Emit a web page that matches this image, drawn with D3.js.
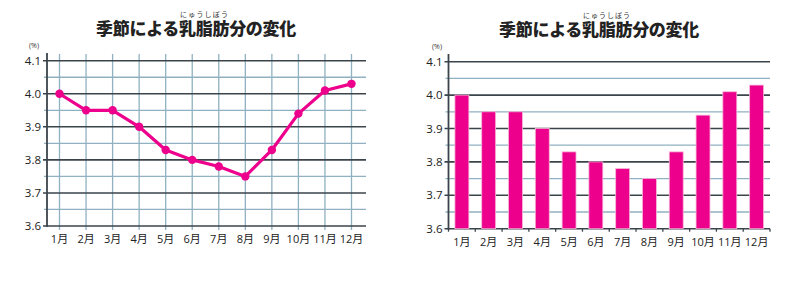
<!DOCTYPE html>
<html><head><meta charset="utf-8">
<script src="https://cdn.jsdelivr.net/npm/d3@7"></script>
<style>body{margin:0;background:#fff}svg{display:block}</style>
</head><body>
<svg id="c" width="800" height="281"></svg>
<script>
const months = ["1月","2月","3月","4月","5月","6月","7月","8月","9月","10月","11月","12月"];
const fat = [4.00, 3.95, 3.95, 3.90, 3.83, 3.80, 3.78, 3.75, 3.83, 3.94, 4.01, 4.03];
const majorTicks = [3.6, 3.7, 3.8, 3.9, 4.0, 4.1];
const minorTicks = [3.65, 3.75, 3.85, 3.95, 4.05];
const titleText = "季節による乳脂肪分の変化";
const rubyText = "にゅうしぼう";
const unitText = "(%)";

const svg = d3.select("#c");
const PINK = "#ec008c", DARK = "#3b444b", LIGHT = "#8fb1c1";
const FONT = "'Open Sans','Noto Sans CJK JP',sans-serif";
const TFONT = "'Liberation Sans','Noto Sans CJK JP',sans-serif";

function title(g, cx, base, rubyX0, rubyX1) {
  g.append("text").attr("x", cx).attr("y", base).attr("text-anchor", "middle")
    .attr("font-family", TFONT).attr("font-weight", 900).attr("font-size", 17)
    .attr("fill", "#222").attr("letter-spacing", -0.3).text(titleText);
  g.append("text").attr("x", (rubyX0 + rubyX1) / 2).attr("y", base - 18).attr("text-anchor", "middle")
    .attr("font-family", TFONT).attr("font-size", 7).attr("fill", "#333")
    .attr("textLength", rubyX1 - rubyX0).text(rubyText);
}

function yAxis(g, y, x0, x1, unitX, unitY, topY) {
  g.selectAll(".minor").data(minorTicks).join("line")
    .attr("x1", x0 - 3).attr("x2", x1).attr("y1", d => y(d)).attr("y2", d => y(d))
    .attr("stroke", LIGHT).attr("stroke-width", 1.3);
  g.selectAll(".major").data(majorTicks).join("line")
    .attr("x1", x0 - 4).attr("x2", x1).attr("y1", d => y(d)).attr("y2", d => y(d))
    .attr("stroke", DARK).attr("stroke-width", 1.6);
  g.append("line").attr("x1", x0).attr("x2", x0).attr("y1", topY).attr("y2", y(3.6) + 1)
    .attr("stroke", DARK).attr("stroke-width", 1.8);
  g.selectAll(".ylab").data(majorTicks).join("text")
    .attr("x", x0 - 6).attr("y", d => y(d) + 4).attr("text-anchor", "end")
    .attr("font-family", FONT).attr("font-size", 11.5).attr("fill", "#222")
    .text(d => d.toFixed(1));
  g.append("text").attr("x", unitX).attr("y", unitY).attr("text-anchor", "middle")
    .attr("font-family", FONT).attr("font-size", 7).attr("fill", "#333").text(unitText);
}

// ---------- Left: line chart ----------
{
  const g = svg.append("g");
  const y = d3.scaleLinear().domain([3.6, 4.1]).range([226, 60.7]);
  const x = d3.scalePoint().domain(months).range([59.5, 351.5]);
  const x0 = 47, x1 = 366;
  title(g, 196, 35, 180, 228);
  g.selectAll(".vg").data(months).join("line")
    .attr("x1", d => x(d)).attr("x2", d => x(d)).attr("y1", 54).attr("y2", y(3.6) + 4)
    .attr("stroke", LIGHT).attr("stroke-width", 1.3);
  yAxis(g, y, x0, x1, 34, 48, 53);
  g.selectAll(".xlab").data(months).join("text")
    .attr("x", d => x(d)).attr("y", 243).attr("text-anchor", "middle")
    .attr("font-family", FONT).attr("font-size", 11).attr("fill", "#222").text(d => d);
  const pts = months.map((m, i) => [x(m), y(fat[i])]);
  g.append("path").attr("d", d3.line()(pts)).attr("fill", "none")
    .attr("stroke", PINK).attr("stroke-width", 3.2).attr("stroke-linejoin", "round");
  g.selectAll(".pt").data(pts).join("circle")
    .attr("cx", d => d[0]).attr("cy", d => d[1]).attr("r", 4.2).attr("fill", PINK);
}

// ---------- Right: bar chart ----------
{
  const g = svg.append("g");
  const y = d3.scaleLinear().domain([3.6, 4.1]).range([228.7, 61.7]);
  const x0 = 448.5, x1 = 770;
  const x = d3.scaleBand().domain(months).range([x0, x1]).paddingInner(0.48).paddingOuter(0.24);
  title(g, 599, 36, 583, 630);
  yAxis(g, y, x0, x1, 437, 49, 54);
  g.selectAll(".bar").data(fat).join("rect")
    .attr("x", (d, i) => x(months[i])).attr("width", x.bandwidth())
    .attr("y", d => y(d)).attr("height", d => y(3.6) - y(d))
    .attr("fill", PINK).attr("stroke", "#f7b6d8").attr("stroke-width", 0.8);
  const bounds = d3.range(13).map(i => x0 + i * (x1 - x0) / 12);
  g.selectAll(".bt").data(bounds).join("line")
    .attr("x1", d => d).attr("x2", d => d).attr("y1", y(3.6)).attr("y2", y(3.6) + 3)
    .attr("stroke", DARK).attr("stroke-width", 1.3);
  g.selectAll(".xlab").data(months).join("text")
    .attr("x", d => x(d) + x.bandwidth() / 2).attr("y", 246).attr("text-anchor", "middle")
    .attr("font-family", FONT).attr("font-size", 11).attr("fill", "#222").text(d => d);
}
</script>
</body></html>
